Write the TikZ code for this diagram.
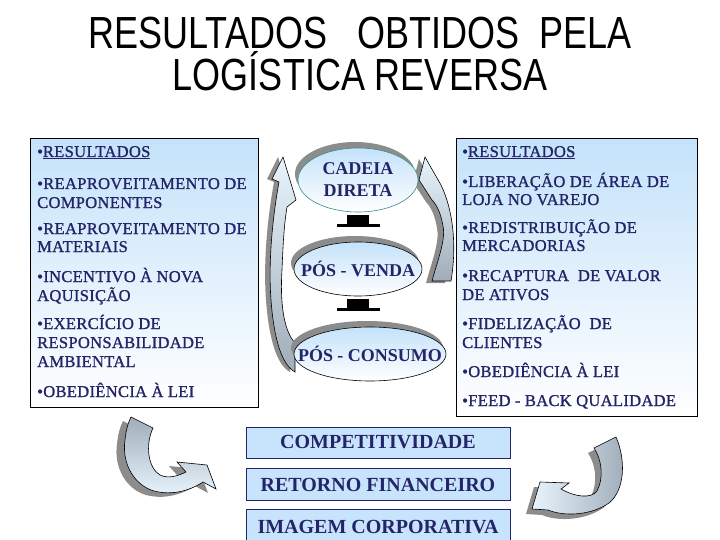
\documentclass[tikz,border=0pt]{standalone}
\usepackage{fontspec}
\setmainfont{Liberation Serif}
\newfontfamily\titlefont{Liberation Sans}
\newfontfamily\listfont[FakeBold=1.2,LetterSpace=2]{Liberation Serif}
\usepackage{graphicx}
\usetikzlibrary{shapes.geometric,shadows,arrows.meta,positioning,calc}

\definecolor{navytext}{RGB}{36,36,104}
\definecolor{paneblue}{RGB}{196,226,250}
\definecolor{boxblue}{RGB}{200,228,252}
\definecolor{shadowgray}{RGB}{140,140,140}
\definecolor{tealline}{RGB}{60,140,140}
\definecolor{arrowgray}{RGB}{160,172,184}
\definecolor{arrowlight}{RGB}{232,244,253}

\newcommand{\flatlabel}[1]{\makebox[0pt]{#1}}

\begin{document}
\begin{tikzpicture}[x=1pt,y=-1pt,
    titletext/.style={anchor=base, inner sep=0pt, font=\titlefont\fontsize{45}{54}\selectfont},
    listtext/.style={anchor=base west, inner sep=0pt, text=navytext, font=\listfont\fontsize{16.5}{19}\selectfont},
    panel/.style={draw=black, line width=0.8pt, top color=paneblue, bottom color=white, anchor=north west, inner sep=0pt},
    stage/.style={ellipse, draw=black, line width=0.6pt, top color=paneblue, bottom color=white, text=navytext,
        font=\bfseries\fontsize{18}{22}\selectfont, align=center, inner sep=0pt,
        drop shadow={opacity=1, fill=shadowgray, shadow xshift=-3pt, shadow yshift=6pt}},
    gainbox/.style={draw=navytext, line width=0.8pt, fill=boxblue, text=navytext,
        font=\bfseries\fontsize{20}{24}\selectfont, minimum width=264pt, inner sep=0pt},
    bendarrow/.style 2 args={draw=black, line width=0.6pt,
        drop shadow={opacity=1, fill=shadowgray, shadow xshift=#1, shadow yshift=#2}},
    sepbar/.style={line width=22pt},
    sepfoot/.style={line width=2.5pt}
]
\useasboundingbox (0,0) rectangle (720,540);

% Title
\node[titletext] (title1) at (360,49) {\scalebox{0.8}[1]{RESULTADOS\ \ \ OBTIDOS\ \ PELA}};
\node[titletext] (title2) at (360,91) {\scalebox{0.8}[1]{LOGÍSTICA REVERSA}};

% Panels
\node[panel, minimum width=228pt, minimum height=269pt] (leftpanel) at (30,138) {};
\node[panel, minimum width=241pt, minimum height=278pt] (rightpanel) at (456,138) {};

% Left list
\foreach \yy/\txt [count=\k] in {157/{•\underline{RESULTADOS}}, 189/{•REAPROVEITAMENTO DE}, 208/{COMPONENTES},
    234/{•REAPROVEITAMENTO DE}, 252/{MATERIAIS}, 282/{•INCENTIVO À NOVA}, 301/{AQUISIÇÃO},
    329/{•EXERCÍCIO DE}, 348/{RESPONSABILIDADE}, 367/{AMBIENTAL}, 397/{•OBEDIÊNCIA À LEI}}
  \node[listtext] (lft\k) at (37,\yy) {\txt};

% Right list
\foreach \yy/\txt [count=\k] in {157/{•\underline{RESULTADOS}}, 187/{•LIBERAÇÃO DE ÁREA DE}, 205/{LOJA NO VAREJO},
    233/{•REDISTRIBUIÇÃO DE}, 251/{MERCADORIAS}, 281/{•RECAPTURA\ \ DE VALOR}, 300/{DE ATIVOS},
    329/{•FIDELIZAÇÃO\ \ DE}, 348/{CLIENTES}, 377/{•OBEDIÊNCIA À LEI}, 406/{•FEED - BACK QUALIDADE}}
  \node[listtext] (rgt\k) at (462,\yy) {\txt};

% Curved arrows beside the chain
\draw[bendarrow={-5pt}{0pt}, top color=arrowlight, bottom color=arrowgray]
  (295,343) .. controls (283,330) and (280,300) .. (282,270) .. controls (283,245) and (284,225) .. (287,207)
  -- (296,200) -- (283,157) -- (272,179) -- (279,182)
  .. controls (273,215) and (268,260) .. (271,300) .. controls (274,340) and (282,365) .. (295,372) -- cycle;
\draw[bendarrow={-6pt}{-2pt}, top color=arrowlight, bottom color=arrowgray]
  (432,281) .. controls (437,262) and (446,240) .. (443,226) .. controls (441,214) and (437,205) .. (432,200)
  -- (419,180) -- (425,157) -- (441,185)
  .. controls (453,210) and (457,245) .. (451,281) -- cycle;

% Chain
\node[stage, draw=tealline, minimum width=120pt, minimum height=64pt] (cadeia) at (358,180) {CADEIA\\DIRETA};
\node[stage, minimum width=128pt, minimum height=54pt] (posvenda) at (358,269) {\flatlabel{PÓS - VENDA}};
\node[stage, minimum width=152pt, minimum height=54pt] (posconsumo) at (370,354) {\flatlabel{PÓS - CONSUMO}};

\draw[sepbar] ([yshift=-3pt]cadeia.south) -- ([yshift=-13pt]cadeia.south);
\draw[sepfoot] ([xshift=-21pt,yshift=-13pt]cadeia.south) -- ([xshift=22pt,yshift=-13pt]cadeia.south);
\draw[sepbar] ([yshift=-3pt]posvenda.south) -- ([yshift=-13pt]posvenda.south);
\draw[sepfoot] ([xshift=-21pt,yshift=-13pt]posvenda.south) -- ([xshift=22pt,yshift=-13pt]posvenda.south);

% Bottom curved arrows
\draw[bendarrow={-8pt}{-4pt}, top color=arrowgray, bottom color=arrowlight]
  (131,417) -- (153,428) .. controls (145,445) and (148,468) .. (160,475) .. controls (168,479) and (178,476) .. (186,472)
  -- (177,462) -- (207,465) -- (216,489) -- (203,482)
  .. controls (188,492) and (168,496) .. (151,490) .. controls (131,482) and (122,460) .. (125,440)
  .. controls (126,430) and (128,423) .. (131,417) -- cycle;
\draw[bendarrow={-6pt}{-5pt}, left color=arrowlight, right color=arrowgray]
  (594,448) -- (616,437) .. controls (626,460) and (625,490) .. (609,503) .. controls (592,515) and (565,517) .. (548,510)
  -- (532,509) -- (540,482) -- (569,483) -- (561,489)
  .. controls (575,497) and (591,499) .. (597,491) .. controls (603,480) and (603,462) .. (594,448) -- cycle;

% Results
\node[gainbox, minimum height=31pt] (competitividade) at (378,442.5) {COMPETITIVIDADE};
\node[gainbox, minimum height=32pt, below=10pt of competitividade] (retorno) {RETORNO FINANCEIRO};
\node[gainbox, minimum height=34pt, below=8pt of retorno] (imagem) {IMAGEM CORPORATIVA};
\end{tikzpicture}
\end{document}
